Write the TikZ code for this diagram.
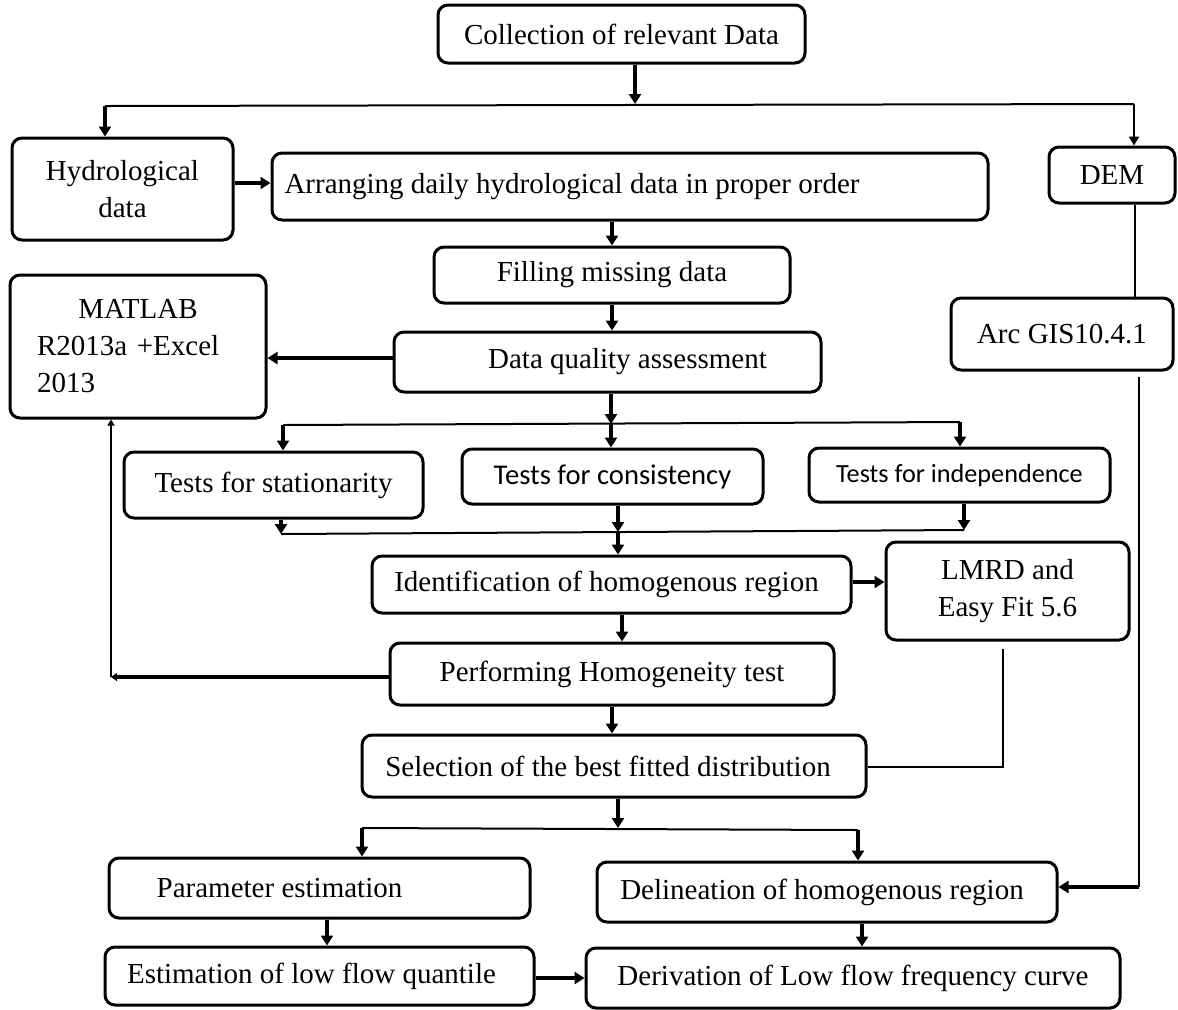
\documentclass[tikz,border=0pt]{standalone}
\usepackage{fontspec}
\setmainfont{Liberation Serif}
\newfontfamily\sansc{Carlito}
\usetikzlibrary{arrows.meta,calc}
\newcommand\fs{\fontsize{14.5}{18.5}\selectfont}
\begin{document}
\begin{tikzpicture}[x=0.5pt,y=-0.5pt,
  box/.style={draw, rounded corners=5pt, line width=1.5pt, inner sep=0pt, align=center, font=\fs},
  sz/.style 2 args={minimum width={#1*0.5pt}, minimum height={#2*0.5pt}},
  ar/.style={line width=2pt, -{Triangle[length=5pt,width=6pt]}},
  arm/.style={line width=1.3pt, -{Triangle[length=4.5pt,width=5pt]}},
  ars/.style={line width=2pt, -{Triangle[length=3pt,width=4pt]}},
  ln/.style={line width=1pt},
  lns/.style={line width=1pt, -{Triangle[length=3pt,width=3.5pt]}}]
\useasboundingbox (0,0) rectangle (1178,1009);
\fill[white] (0,0) rectangle (1178,1009);

% boxes
\node[box,sz={367}{58}] (col) at (621.5,34) {Collection of relevant Data};
\node[box,sz={221}{102}] (hyd) at (122.5,189) {Hydrological\\data};
\node[box,sz={716}{67}] (arr) at (630,186.5) {Arranging daily hydrological data in proper order\hspace*{58pt}};
\node[box,sz={126}{56}] (dem) at (1112,175) {DEM};
\node[box,sz={356}{56}] (fil) at (612,275) {Filling missing data};
\node[box,sz={256}{143},align=left,text width=101pt,inner xsep=13.5pt] (mat) at (138,346.5) {\makebox[\linewidth]{MATLAB}\\R2013a +Excel\\2013};
\node[box,sz={222}{72}] (arc) at (1062,334) {Arc GIS10.4.1};
\node[box,sz={427}{60}] (dqa) at (607.5,362) {\hspace*{20pt}Data quality assessment};
\node[box,sz={299}{66}] (sta) at (273.5,485) {Tests for stationarity};
\node[box,sz={301}{55},font=\sansc\fontsize{14.3}{17}\selectfont] (con) at (612.5,476.5) {Tests for consistency};
\node[box,sz={301}{54},font=\sansc\fontsize{13.1}{16}\selectfont] (ind) at (959.5,475) {Tests for independence};
\node[box,sz={479}{57}] (ide) at (611.5,584.5) {Identification of homogenous region\hspace*{5pt}};
\node[box,sz={243}{98}] (lmr) at (1007.5,591) {LMRD and\\Easy Fit 5.6};
\node[box,sz={444}{62}] (per) at (612,674) {Performing Homogeneity test};
\node[box,sz={504}{62}] (sel) at (614,766) {Selection of the best fitted distribution\hspace*{6pt}};
\node[box,sz={421}{60}] (par) at (319.5,888) {Parameter estimation\hspace*{40pt}};
\node[box,sz={460}{60}] (del) at (827,892) {Delineation of homogenous region\hspace*{5pt}};
\node[box,sz={429}{58}] (est) at (319.5,976) {Estimation of low flow quantile\hspace*{8pt}};
\node[box,sz={534}{60}] (der) at (853,978) {Derivation of Low flow frequency curve};

% helper coordinates
\coordinate (a1) at (635,104);
\coordinate (bl) at (105,106);
\coordinate (br) at (1134,104);
\coordinate (y183) at (0,183);
\coordinate (y358) at (0,358);
\coordinate (a2) at (611,424);
\coordinate (b2l) at (283,425);
\coordinate (b2r) at (960,422);
\coordinate (m1) at (281,534);
\coordinate (m2) at (618,532);
\coordinate (m3) at (964,530);
\coordinate (y582) at (0,582);
\coordinate (x622) at (622,0);
\coordinate (fb) at (111,677);
\coordinate (lm) at (1003,767);
\coordinate (a3) at (618,828);
\coordinate (b3l) at (362,828);
\coordinate (b3r) at (858,830);
\coordinate (x1135) at (1135,0);
\coordinate (rc) at (1139,887);
\coordinate (x327) at (327,0);
\coordinate (x862) at (862,0);
\coordinate (y978) at (0,978);

% top branch
\draw[ar] (a1 |- col.south) -- (a1);
\draw[ln] (bl) -- (br);
\draw[ar] (bl) -- (bl |- hyd.north);
\draw[arm] (br) -- (br |- dem.north);

% main chain
\draw[ar] (hyd.east |- y183) -- (arr.west |- y183);
\draw[ar] (arr.south -| fil.north) -- (fil.north);
\draw[ar] (fil.south) -- (fil.south |- dqa.north);
\draw[ar] (dqa.west |- y358) -- (mat.east |- y358);

% tests branch
\draw[ar] (a2 |- dqa.south) -- (a2);
\draw[ar] (a2) -- (a2 |- con.north);
\draw[ln] (b2l) -- (b2r);
\draw[ar] (b2l) -- (b2l |- sta.north);
\draw[ar] (b2r) -- (b2r |- ind.north);

% merge
\draw[ln] (m1) -- (m3);
\draw[ar] (m1 |- sta.south) -- (m1);
\draw[ar] (m2 |- con.south) -- (m2);
\draw[ar] (m3 |- ind.south) -- (m3);
\draw[ar] (m2) -- (m2 |- ide.north);

\draw[ar] (ide.east |- y582) -- (lmr.west |- y582);
\draw[ar] (ide.south -| x622) -- (per.north -| x622);

% feedback to MATLAB
\draw[ars] (per.west |- fb) -- (fb);
\draw[lns] (fb) -- (fb |- mat.south);

\draw[ar] (per.south) -- (per.south |- sel.north);

% LMRD to selection
\draw[ln] ($(lmr.south -| lm)+(0,7)$) -- (lm) -- (sel.east |- lm);

% selection branch
\draw[ar] (a3 |- sel.south) -- (a3);
\draw[ln] (b3l) -- (b3r);
\draw[ar] (b3l) -- (b3l |- par.north);
\draw[ar] (b3r) -- (b3r |- del.north);

% DEM - Arc GIS - delineation
\draw[ln] (dem.south -| x1135) -- (arc.north -| x1135);
\draw[ln] ($(arc.south -| rc)+(0,5)$) -- (rc);
\draw[ar] (rc) -- (rc -| del.east);

% bottom
\draw[ar] (par.south -| x327) -- (est.north -| x327);
\draw[ar] (del.south -| x862) -- (der.north -| x862);
\draw[ar] (est.east |- y978) -- (der.west |- y978);
\end{tikzpicture}
\end{document}
